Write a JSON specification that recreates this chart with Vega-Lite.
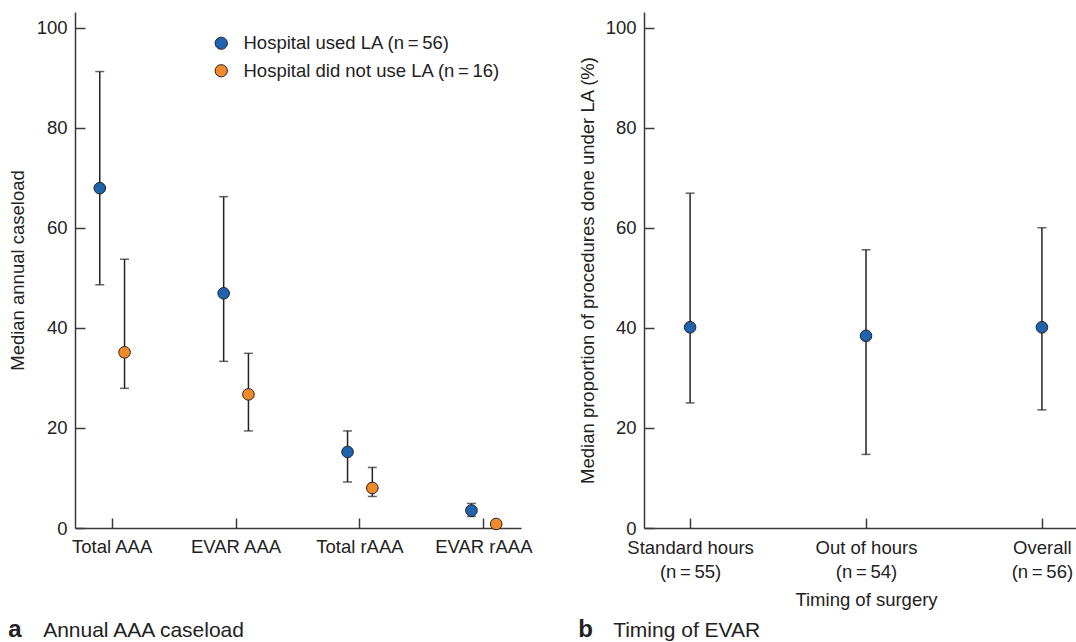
{
  "$schema": "https://vega.github.io/schema/vega-lite/v6.json",
  "padding": {"left": 8, "top": 12, "right": 0, "bottom": 0},
  "background": "white",
  "config": {
    "font": "Liberation Sans",
    "view": {"stroke": null},
    "axis": {
      "grid": false,
      "domainColor": "#3a3a3a",
      "domainWidth": 1.5,
      "tickColor": "#3a3a3a",
      "tickWidth": 1.5,
      "tickSize": -10,
      "labelFontSize": 18.5,
      "labelColor": "#222222",
      "titleFontSize": 18.5,
      "titleFontWeight": "normal",
      "titleColor": "#222222",
      "labelPadding": 18
    },
    "title": {
      "anchor": "start",
      "frame": "bounds",
      "orient": "bottom",
      "fontSize": 24,
      "fontWeight": "bold",
      "color": "#222222",
      "subtitleFontSize": 21,
      "subtitleColor": "#222222",
      "subtitlePadding": -22
    }
  },
  "spacing": 46,
  "hconcat": [
    {
      "width": 446,
      "height": 516,
      "title": {"text": "a", "subtitle": "\u200b\u00a0\u00a0\u00a0\u00a0\u00a0\u00a0Annual AAA caseload", "offset": 62},
      "data": {
        "values": [
          {"measure": "Total AAA", "group": "Hospital used LA (n\u2009=\u200956)", "median": 67.9, "lower": 48.6, "upper": 91.2},
          {"measure": "Total AAA", "group": "Hospital did not use LA (n\u2009=\u200916)", "median": 35.1, "lower": 27.9, "upper": 53.7},
          {"measure": "EVAR AAA", "group": "Hospital used LA (n\u2009=\u200956)", "median": 46.9, "lower": 33.3, "upper": 66.2},
          {"measure": "EVAR AAA", "group": "Hospital did not use LA (n\u2009=\u200916)", "median": 26.7, "lower": 19.4, "upper": 34.9},
          {"measure": "Total rAAA", "group": "Hospital used LA (n\u2009=\u200956)", "median": 15.2, "lower": 9.2, "upper": 19.4},
          {"measure": "Total rAAA", "group": "Hospital did not use LA (n\u2009=\u200916)", "median": 8.0, "lower": 6.3, "upper": 12.1},
          {"measure": "EVAR rAAA", "group": "Hospital used LA (n\u2009=\u200956)", "median": 3.5, "lower": 2.3, "upper": 4.9},
          {"measure": "EVAR rAAA", "group": "Hospital did not use LA (n\u2009=\u200916)", "median": 0.8, "lower": null, "upper": null}
        ]
      },
      "encoding": {
        "x": {
          "field": "measure", "type": "nominal",
          "sort": ["Total AAA", "EVAR AAA", "Total rAAA", "EVAR rAAA"],
          "scale": {"paddingInner": 0.6, "paddingOuter": 0.1},
          "axis": {"title": null, "labelAngle": 0, "labelPadding": 19}
        },
        "xOffset": {
          "field": "group", "type": "nominal",
          "sort": ["Hospital used LA (n\u2009=\u200956)", "Hospital did not use LA (n\u2009=\u200916)"],
          "scale": {"paddingInner": 0, "paddingOuter": 0}
        }
      },
      "layer": [
        {
          "mark": {"type": "rule", "color": "#222222", "strokeWidth": 1.5},
          "encoding": {
            "y": {
              "field": "lower", "type": "quantitative", "title": "Median annual caseload",
              "scale": {"domain": [0, 103.1], "nice": false},
              "axis": {"values": [0, 20, 40, 60, 80, 100], "titlePadding": 9}
            },
            "y2": {"field": "upper"}
          }
        },
        {
          "mark": {"type": "tick", "orient": "horizontal", "color": "#222222", "size": 9, "thickness": 1.5},
          "encoding": {"y": {"field": "upper", "type": "quantitative", "title": "Median annual caseload"}}
        },
        {
          "mark": {"type": "tick", "orient": "horizontal", "color": "#222222", "size": 9, "thickness": 1.5},
          "encoding": {"y": {"field": "lower", "type": "quantitative", "title": "Median annual caseload"}}
        },
        {
          "mark": {"type": "point", "filled": true, "size": 135, "stroke": "#222222", "strokeWidth": 1, "opacity": 1},
          "encoding": {
            "y": {"field": "median", "type": "quantitative", "title": "Median annual caseload"},
            "fill": {
              "field": "group", "type": "nominal",
              "sort": ["Hospital used LA (n\u2009=\u200956)", "Hospital did not use LA (n\u2009=\u200916)"],
              "scale": {"range": ["#1f63ae", "#f28a2a"]},
              "legend": {
                "title": null, "orient": "none", "legendX": 137, "legendY": 22,
                "labelFontSize": 18.5, "labelColor": "#222222", "labelOffset": 13, "labelLimit": 0,
                "symbolSize": 150, "symbolType": "circle", "symbolStrokeColor": "#222222", "symbolStrokeWidth": 1,
                "rowPadding": 8.5, "padding": 0
              }
            }
          }
        }
      ]
    },
    {
      "width": 444,
      "height": 516,
      "title": {"text": "b", "subtitle": "\u200b\u00a0\u00a0\u00a0\u00a0\u00a0\u00a0Timing of EVAR", "offset": 9},
      "data": {
        "values": [
          {"timing": "Standard hours|(n\u2009=\u200955)", "median": 40.1, "lower": 25.0, "upper": 66.9},
          {"timing": "Out of hours|(n\u2009=\u200954)", "median": 38.4, "lower": 14.7, "upper": 55.6},
          {"timing": "Overall|(n\u2009=\u200956)", "median": 40.1, "lower": 23.6, "upper": 60.0}
        ]
      },
      "encoding": {
        "x": {
          "field": "timing", "type": "nominal",
          "sort": ["Standard hours|(n\u2009=\u200955)", "Out of hours|(n\u2009=\u200954)", "Overall|(n\u2009=\u200956)"],
          "scale": {"type": "point", "padding": 0.262},
          "axis": {"title": "Timing of surgery", "labelAngle": 0, "labelExpr": "split(datum.label, '|')", "labelLineHeight": 24.4, "labelPadding": 20, "titlePadding": 10}
        }
      },
      "layer": [
        {
          "mark": {"type": "rule", "color": "#222222", "strokeWidth": 1.5},
          "encoding": {
            "y": {
              "field": "lower", "type": "quantitative", "title": "Median proportion of procedures done under LA (%)",
              "scale": {"domain": [0, 103.1], "nice": false},
              "axis": {"values": [0, 20, 40, 60, 80, 100], "titlePadding": 8}
            },
            "y2": {"field": "upper"}
          }
        },
        {
          "mark": {"type": "tick", "orient": "horizontal", "color": "#222222", "size": 9, "thickness": 1.5},
          "encoding": {"y": {"field": "upper", "type": "quantitative", "title": "Median proportion of procedures done under LA (%)"}}
        },
        {
          "mark": {"type": "tick", "orient": "horizontal", "color": "#222222", "size": 9, "thickness": 1.5},
          "encoding": {"y": {"field": "lower", "type": "quantitative", "title": "Median proportion of procedures done under LA (%)"}}
        },
        {
          "mark": {"type": "point", "filled": true, "size": 135, "stroke": "#222222", "strokeWidth": 1, "opacity": 1, "fill": "#1f63ae"},
          "encoding": {"y": {"field": "median", "type": "quantitative", "title": "Median proportion of procedures done under LA (%)"}}
        }
      ]
    }
  ]
}
